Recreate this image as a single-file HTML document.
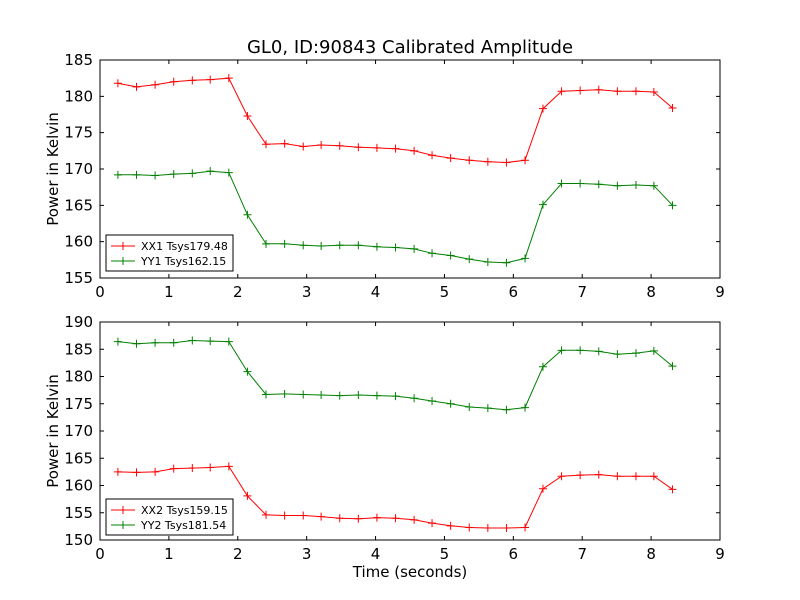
<!DOCTYPE html>
<html><head><meta charset="utf-8"><style>
body{margin:0;background:#fff;}
svg{display:block;font-family:"DejaVu Sans","Liberation Sans",sans-serif;}
</style></head><body>
<svg id="chart" width="800" height="600" viewBox="0 0 800 600"></svg>
<script>
const times=[0.26,0.53,0.80,1.07,1.34,1.60,1.87,2.14,2.41,2.68,2.95,3.21,3.48,3.75,4.02,4.29,4.56,4.82,5.09,5.36,5.63,5.90,6.17,6.43,6.70,6.97,7.24,7.51,7.78,8.04,8.31];
const xx1=[181.8,181.3,181.6,182.0,182.2,182.3,182.5,177.3,173.4,173.5,173.1,173.3,173.2,173.0,172.9,172.8,172.5,171.9,171.5,171.2,171.0,170.9,171.2,178.3,180.7,180.8,180.9,180.7,180.7,180.6,178.4];
const yy1=[169.2,169.2,169.1,169.3,169.4,169.7,169.5,163.7,159.7,159.7,159.5,159.4,159.5,159.5,159.3,159.2,159.0,158.4,158.1,157.6,157.2,157.1,157.7,165.1,168.0,168.0,167.9,167.7,167.8,167.7,165.0];
const xx2=[162.5,162.4,162.5,163.1,163.2,163.3,163.5,158.1,154.6,154.5,154.5,154.3,154.0,153.9,154.1,154.0,153.7,153.1,152.6,152.3,152.2,152.2,152.3,159.4,161.7,161.9,162.0,161.7,161.7,161.7,159.3];
const yy2=[186.4,186.0,186.2,186.2,186.6,186.5,186.4,180.9,176.7,176.8,176.7,176.6,176.5,176.6,176.5,176.4,176.0,175.5,175.0,174.4,174.2,173.9,174.3,181.8,184.8,184.8,184.6,184.1,184.3,184.7,181.9];
const xTicks=[0,1,2,3,4,5,6,7,8,9];
const yTicksTop=[155,160,165,170,175,180,185];
const yTicksBot=[150,155,160,165,170,175,180,185,190];
const legendTop=["XX1 Tsys179.48","YY1 Tsys162.15"];
const legendBot=["XX2 Tsys159.15","YY2 Tsys181.54"];

const svg=document.getElementById('chart');
const NS='http://www.w3.org/2000/svg';
function mk(tag,attrs,parent){const e=document.createElementNS(NS,tag);for(const k in attrs)e.setAttribute(k,attrs[k]);(parent||svg).appendChild(e);return e;}

function panel(name,top,bottom,ymin,ymax,yTicks,series,legend,legY){
  const L=100,R=720;
  const g=mk('g',{});
  
  
  const xs=v=>L+(v-0)/(9-0)*(R-L);
  const ys=v=>bottom-(v-ymin)/(ymax-ymin)*(bottom-top);
  series.forEach(s=>{
    const pts=times.map((t,i)=>xs(t).toFixed(1)+','+ys(s.vals[i]).toFixed(1)).join(' ');
    const pl=mk('polyline',{points:pts,fill:'none',stroke:s.color,'stroke-width':1},g);
    
    
    times.forEach((t,i)=>{
      const x=xs(t),y=ys(s.vals[i]);
      const m=mk('path',{d:`M${x-4},${y}H${x+4}M${x},${y-4}V${y+4}`,stroke:s.color,'stroke-width':1},g);
      
      
    });
  });
  const fr=mk('rect',{x:L,y:top,width:R-L,height:bottom-top,fill:'none',stroke:'#000','stroke-width':1},g);
  
  
  xTicks.forEach(v=>{
    const x=xs(v);
    mk('path',{d:`M${x},${bottom}v-4M${x},${top}v4`,stroke:'#000'},g);
    const t=mk('text',{x:x,y:bottom+19,'text-anchor':'middle','font-size':15},g);
    t.textContent=v;
    
    
  });
  yTicks.forEach(v=>{
    const y=ys(v);
    mk('path',{d:`M${L},${y}h4M${R},${y}h-4`,stroke:'#000'},g);
    const t=mk('text',{x:L-7,y:y+5,'text-anchor':'end','font-size':15},g);
    t.textContent=v;
    
    
  });
  const yl=mk('text',{x:0,y:0,'text-anchor':'middle','font-size':15,transform:`translate(58,${(top+bottom)/2}) rotate(-90)`},g);
  yl.textContent='Power in Kelvin';
  
  
  const lg=mk('g',{},g);
  
  
  mk('rect',{x:106,y:legY,width:127,height:36,fill:'#fff',stroke:'#000'},lg);
  series.forEach((s,i)=>{
    const y=legY+11+i*15;
    mk('path',{d:`M111,${y}h24M123,${y-4}v8`,stroke:s.color},lg);
    const t=mk('text',{x:141,y:y+4,'font-size':11},lg);
    t.textContent=legend[i];
    
    
  });
}
panel('top-panel',60,278,155,185,yTicksTop,[{name:'xx1',vals:xx1,color:'#ff0000'},{name:'yy1',vals:yy1,color:'#008000'}],legendTop,235);
panel('bottom-panel',322,540,150,190,yTicksBot,[{name:'xx2',vals:xx2,color:'#ff0000'},{name:'yy2',vals:yy2,color:'#008000'}],legendBot,499);
const title=mk('text',{x:410,y:53,'text-anchor':'middle','font-size':18});
title.textContent='GL0, ID:90843 Calibrated Amplitude';


const xt=mk('text',{x:410,y:577,'text-anchor':'middle','font-size':15});
xt.textContent='Time (seconds)';


</script>
</body></html>
